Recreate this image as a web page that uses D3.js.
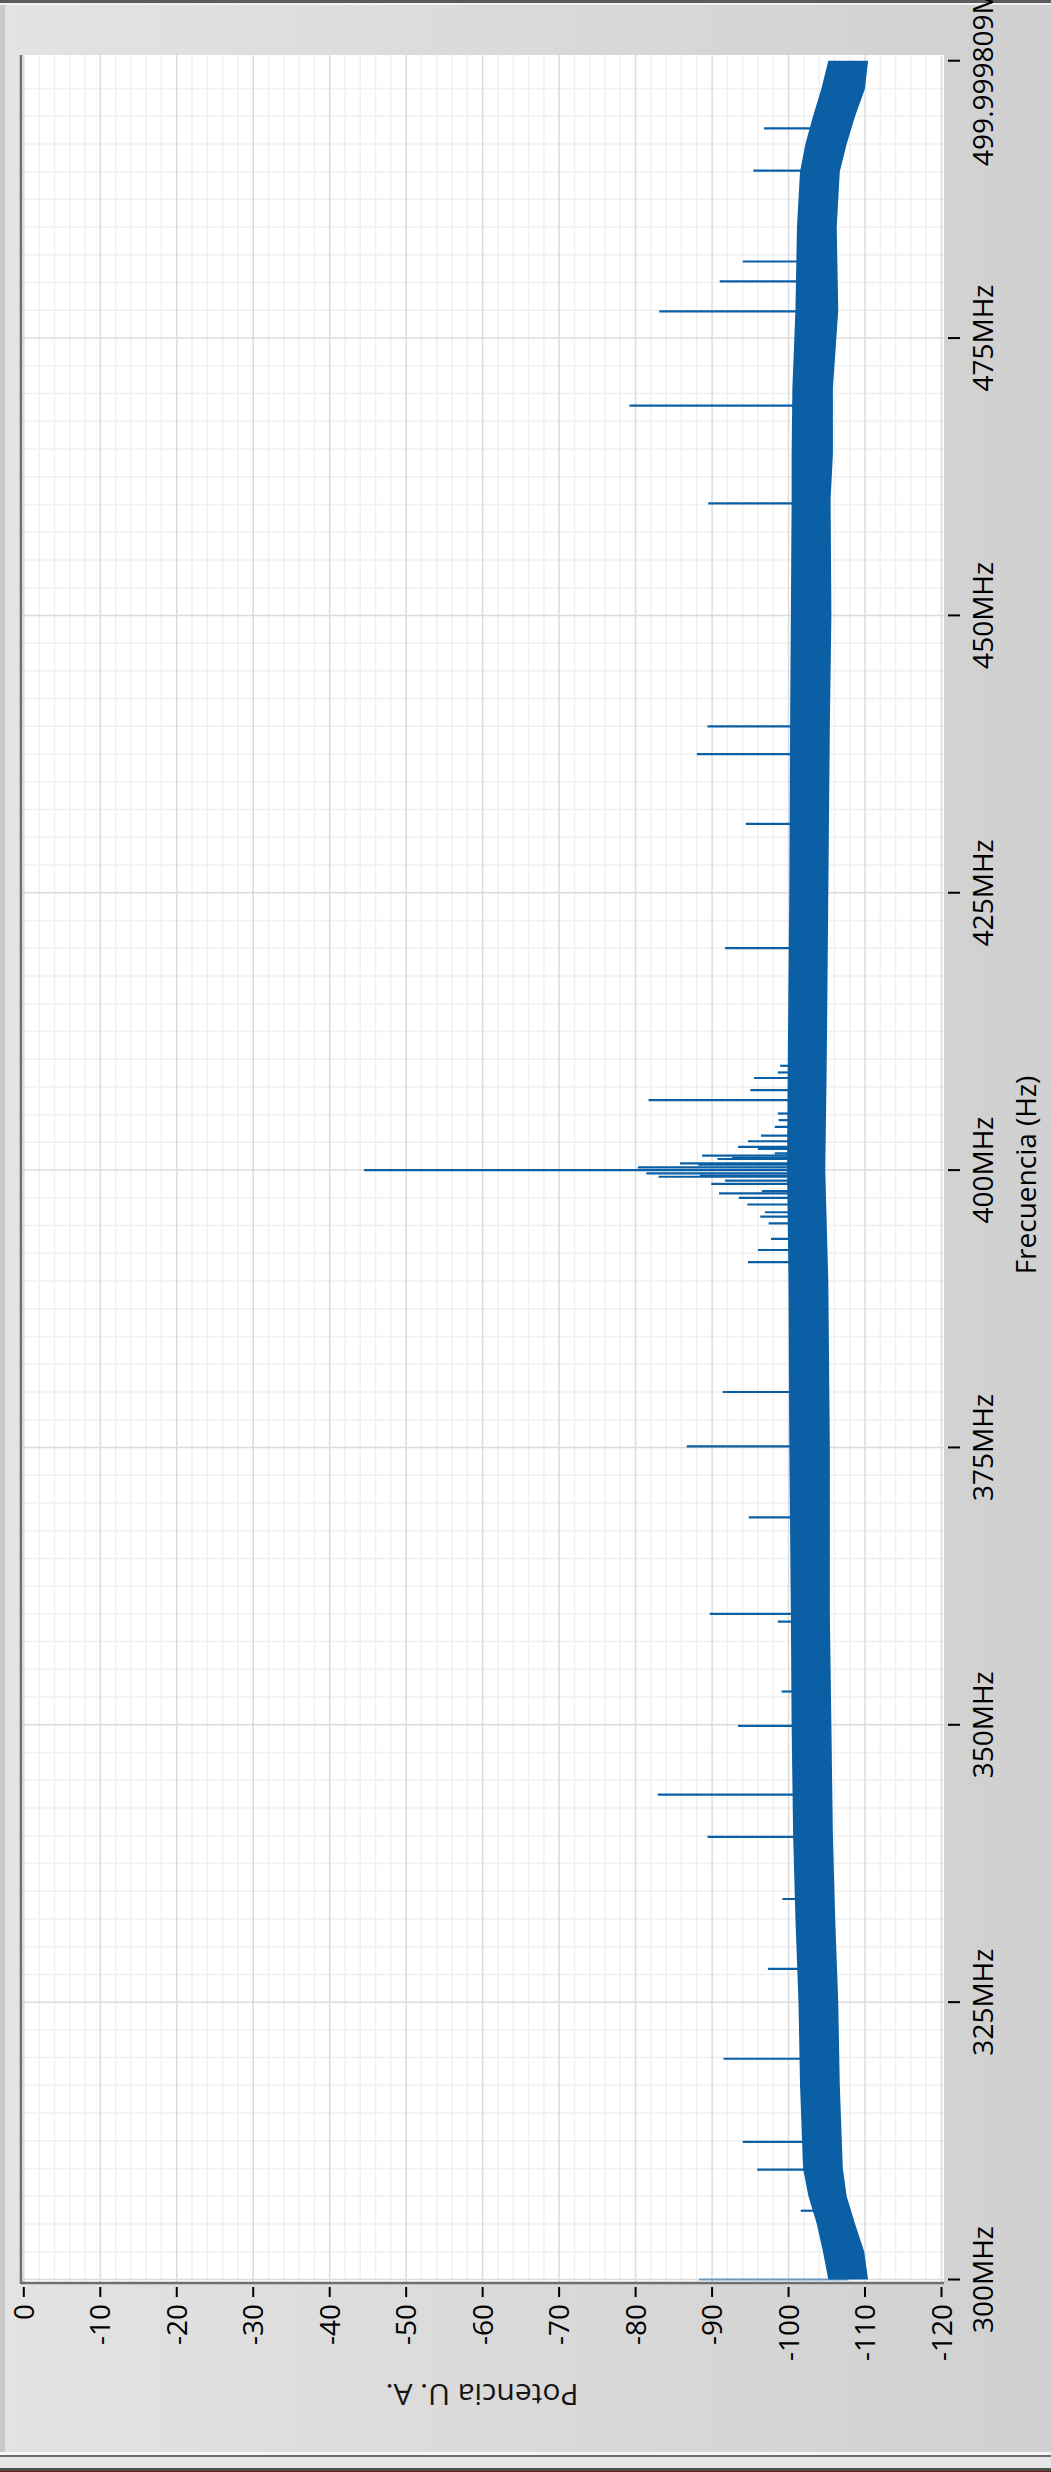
<!DOCTYPE html>
<html>
<head>
<meta charset="utf-8">
<script src="https://cdn.jsdelivr.net/npm/d3@7"></script>
<style>
html, body { margin: 0; padding: 0; background: #d8d8d8; }
svg { display: block; }
text { font-family: "Open Sans", "Noto Sans", sans-serif; fill: #000; }
</style>
</head>
<body>
<svg id="chart" width="1051" height="2472"></svg>
<script>
// Spectrum, drawn turned on its side: frequency runs bottom -> top, power left -> right

const freqTicks = [300, 325, 350, 375, 400, 425, 450, 475, 499.999809];
const freqTickLabels = ["300MHz", "325MHz", "350MHz", "375MHz", "400MHz",
                        "425MHz", "450MHz", "475MHz", "499.999809MHz"];
const powerTicks = [0, -10, -20, -30, -40, -50, -60, -70, -80, -90, -100, -110, -120];

// noise floor envelope (MHz, upper / lower power)
const bandFreq = [300, 302.5, 305, 307.5, 310, 317.5, 325, 332.5, 340, 350, 360, 375, 390,
                  400, 410, 425, 440, 450, 460.5, 464.5, 470.5, 477.5, 485, 487.5, 490,
                  492.5, 495, 497.5, 499.999809];
const bandTop = [-105.2, -104.5, -103.7, -102.6, -101.9, -101.5, -101.3, -100.9, -100.6,
                 -100.4, -100.3, -100.1, -100.0, -99.8, -99.9, -100.1, -100.2, -100.3,
                 -100.4, -100.4, -100.5, -100.9, -101.1, -101.3, -101.5, -102.2, -103.2,
                 -104.3, -105.2];
const bandBottom = [-110.4, -109.9, -108.7, -107.6, -107.1, -106.7, -106.5, -106.1, -105.8,
                    -105.6, -105.4, -105.4, -105.2, -104.8, -105.0, -105.2, -105.4, -105.6,
                    -105.5, -105.8, -105.8, -106.5, -106.3, -106.5, -106.7, -107.6, -108.7,
                    -110.0, -110.4];

// spurs sticking out of the floor (MHz, peak power)
const spikeFreq = [493.9, 490.1, 481.9, 480.1, 477.4, 468.9, 460.1, 440.0, 437.5, 431.2,
                   420.0, 409.4, 408.8, 408.3, 407.2, 406.3, 405.1, 404.5, 403.9, 403.1,
                   402.6, 402.1, 401.9, 401.5, 401.3, 401.1, 401.0, 400.6, 400.5, 400.25,
                   400.0, 399.7, 399.5, 399.4, 399.05, 398.75, 398.1, 397.9, 397.5, 396.9,
                   396.2, 395.8, 395.2, 393.8, 392.8, 391.7, 380.0, 375.1, 368.7, 360.0,
                   359.3, 353.0, 349.9, 343.7, 339.9, 334.3, 328.0, 319.9, 312.4, 309.9,
                   306.2, 300.0];
const spikePower = [-96.8, -95.4, -94.0, -91.0, -83.1, -79.2, -89.5, -89.4, -88.0, -94.4,
                    -91.7, -98.9, -98.6, -95.5, -95.0, -81.7, -98.6, -98.7, -98.2, -96.4,
                    -94.7, -93.4, -96.0, -98.2, -88.7, -92.6, -90.7, -85.8, -88.2, -80.3,
                    -44.5, -81.4, -88.4, -83.0, -91.7, -89.9, -96.5, -90.9, -93.5, -94.6,
                    -96.9, -96.3, -97.4, -97.7, -96.0, -94.7, -91.4, -86.7, -94.8, -89.7,
                    -98.6, -99.1, -93.4, -82.9, -89.4, -99.2, -97.3, -91.5, -94.0, -95.9,
                    -101.6, -88.3];

const frame = { left: 21, right: 944, top: 55, bottom: 2283 };
const blue = "#0b5fa5";

const svg = d3.select("#chart");

const x = d3.scaleLinear().domain([0, -120]).range([23.8, 941.5]);
const y = d3.scaleLinear().domain([300, 499.999809]).range([2279.5, 60.7]);

// ---- window chrome ----
const defs = svg.append("defs");
const grad = defs.append("linearGradient").attr("id", "panel")
    .attr("x1", "0").attr("x2", "1").attr("y1", "0").attr("y2", "0");
grad.append("stop").attr("offset", "0").attr("stop-color", "#e3e3e3");
grad.append("stop").attr("offset", "1").attr("stop-color", "#d0d0d0");

defs.append("clipPath").attr("id", "plotClip")
  .append("rect")
    .attr("x", frame.left).attr("y", frame.top)
    .attr("width", frame.right - frame.left)
    .attr("height", frame.bottom - frame.top);

svg.append("rect").attr("width", 1051).attr("height", 2472).attr("fill", "url(#panel)");
svg.append("rect").attr("x", 0).attr("y", 0).attr("width", 1051).attr("height", 3).attr("fill", "#5b5b5b");
svg.append("rect").attr("x", 0).attr("y", 3).attr("width", 1051).attr("height", 2).attr("fill", "#f2f2f2");
svg.append("rect").attr("x", 0).attr("y", 5).attr("width", 5).attr("height", 2447).attr("fill", "#c9c9c9");
svg.append("rect").attr("x", 0).attr("y", 2452).attr("width", 1051).attr("height", 3).attr("fill", "#f6f6f6");
svg.append("rect").attr("x", 0).attr("y", 2455).attr("width", 1051).attr("height", 2).attr("fill", "#6a6a6a");
svg.append("rect").attr("x", 0).attr("y", 2457).attr("width", 1051).attr("height", 11).attr("fill", "#e6e6e6");
svg.append("rect").attr("x", 0).attr("y", 2468).attr("width", 1051).attr("height", 3).attr("fill", "#505050");
svg.append("rect").attr("x", 0).attr("y", 2471).attr("width", 1051).attr("height", 1).attr("fill", "#6b1b1b");

// ---- plot area ----
svg.append("rect")
    .attr("x", frame.left).attr("y", frame.top)
    .attr("width", frame.right - frame.left)
    .attr("height", frame.bottom - frame.top)
    .attr("fill", "#fff");

const plot = svg.append("g").attr("clip-path", "url(#plotClip)");

const minorPower = d3.range(0, -121, -2).filter(v => v % 10 !== 0);
const minorFreq = d3.range(302.5, 499.99, 2.5).filter(v => v % 25 !== 0);
const majorFreq = freqTicks.filter(v => v % 25 === 0);

plot.selectAll(".minor-x")
    .data(minorPower)
  .enter().append("line")
    .attr("x1", d => x(d)).attr("x2", d => x(d))
    .attr("y1", frame.top).attr("y2", frame.bottom)
    .attr("stroke", "#f0f0f0").attr("stroke-width", 1.5);

plot.selectAll(".minor-y")
    .data(minorFreq)
  .enter().append("line")
    .attr("y1", d => y(d)).attr("y2", d => y(d))
    .attr("x1", frame.left).attr("x2", frame.right)
    .attr("stroke", "#f0f0f0").attr("stroke-width", 1.5);

plot.selectAll(".major-x")
    .data(powerTicks)
  .enter().append("line")
    .attr("x1", d => x(d)).attr("x2", d => x(d))
    .attr("y1", frame.top).attr("y2", frame.bottom)
    .attr("stroke", "#dcdcdc").attr("stroke-width", 1.5);

plot.selectAll(".major-y")
    .data(majorFreq)
  .enter().append("line")
    .attr("y1", d => y(d)).attr("y2", d => y(d))
    .attr("x1", frame.left).attr("x2", frame.right)
    .attr("stroke", "#dcdcdc").attr("stroke-width", 1.5);

// noise floor
const band = bandFreq.map((f, i) => ({ f: f, hi: bandTop[i], lo: bandBottom[i] }));
const area = d3.area()
    .y(d => y(d.f))
    .x0(d => x(d.hi))
    .x1(d => x(d.lo));

plot.append("path")
    .datum(band)
    .attr("d", area)
    .attr("fill", blue);

// spurs start from the middle of the floor
const bis = d3.bisector(d => d.f).left;
function floorAt(f) {
    let i = Math.max(1, Math.min(band.length - 1, bis(band, f)));
    const a = band[i - 1], b = band[i];
    const t = (f - a.f) / (b.f - a.f);
    return ((a.hi + a.lo) / 2) * (1 - t) + ((b.hi + b.lo) / 2) * t;
}

const spikes = spikeFreq.map((f, i) => ({ f: f, p: spikePower[i] }));
plot.selectAll(".spike")
    .data(spikes)
  .enter().append("line")
    .attr("class", "spike")
    .attr("x1", d => x(floorAt(d.f)))
    .attr("x2", d => x(d.p))
    .attr("y1", d => y(d.f)).attr("y2", d => y(d.f))
    .attr("stroke", blue)
    .attr("stroke-opacity", d => d.f === y.domain()[0] ? 0.55 : 1)
    .attr("stroke-width", 2.2);

// frame edges
svg.append("line")
    .attr("x1", frame.left).attr("x2", frame.left)
    .attr("y1", frame.top).attr("y2", frame.bottom + 1)
    .attr("stroke", "#6e6e6e").attr("stroke-width", 2.5);
svg.append("line")
    .attr("x1", frame.left).attr("x2", frame.right)
    .attr("y1", frame.bottom).attr("y2", frame.bottom)
    .attr("stroke", "#6e6e6e").attr("stroke-width", 2.5);

// ---- power axis (bottom) ----
const pAxis = svg.append("g").attr("class", "power-axis");
pAxis.selectAll("line")
    .data(powerTicks)
  .enter().append("line")
    .attr("x1", d => x(d)).attr("x2", d => x(d))
    .attr("y1", 2287).attr("y2", 2297)
    .attr("stroke", "#000").attr("stroke-width", 2);

pAxis.selectAll("text")
    .data(powerTicks)
  .enter().append("text")
    .attr("transform", d => "translate(" + x(d) + ",2304) rotate(-90)")
    .attr("dy", "0.36em")
    .attr("text-anchor", "end")
    .style("font-size", "28px")
    .text(d => d);

svg.append("text")
    .attr("transform", "translate(482,2384) rotate(180)")
    .attr("text-anchor", "middle")
    .style("font-size", "30px")
    .style("fill", "#151515")
    .text("Potencia U. A.");

// ---- frequency axis (right) ----
const fAxis = svg.append("g").attr("class", "freq-axis");
fAxis.selectAll("line")
    .data(freqTicks)
  .enter().append("line")
    .attr("y1", d => y(d)).attr("y2", d => y(d))
    .attr("x1", 948).attr("x2", 960)
    .attr("stroke", "#000").attr("stroke-width", 2);

fAxis.selectAll("text")
    .data(freqTicks)
  .enter().append("text")
    .attr("transform", d => "translate(983," + y(d) + ") rotate(-90)")
    .attr("dy", "0.36em")
    .attr("text-anchor", "middle")
    .style("font-size", "28px")
    .text((d, i) => freqTickLabels[i]);

svg.append("text")
    .attr("transform", "translate(1036,1175) rotate(-90)")
    .attr("text-anchor", "middle")
    .style("font-size", "28px")
    .text("Frecuencia (Hz)");
</script>
</body>
</html>
